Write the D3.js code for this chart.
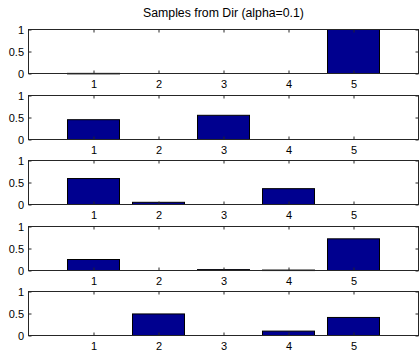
<!DOCTYPE html>
<html>
<head>
<meta charset="utf-8">
<script src="https://cdn.jsdelivr.net/npm/d3@7"></script>
<style>
  body { margin: 0; background: #fff; }
  text { font-family: "Liberation Sans", Arial, sans-serif; font-size: 11px; fill: #000; }
</style>
</head>
<body>
<div id="chart"></div>
<script>
const categories = [1, 2, 3, 4, 5];
const sample1 = [0.003, 0, 0, 0, 1];
const sample2 = [0.45, 0, 0.55, 0, 0];
const sample3 = [0.59, 0.05, 0, 0.36, 0];
const sample4 = [0.25, 0, 0.02, 0.01, 0.72];
const sample5 = [0, 0.49, 0, 0.1, 0.41];
const samples = [sample1, sample2, sample3, sample4, sample5];
const yTicks = [0, 0.5, 1];
const title = 'Samples from Dir (alpha=0.1)';

const W = 419, H = 351;
const left = 28.5, right = 418.5;
const top0 = 29, period = 65.6, plotH = 44;

const svg = d3.select('#chart').append('svg')
  .attr('width', W)
  .attr('height', H);

const x = d3.scaleLinear().domain([0, 6]).range([left, right]);
const barW = x(0.8) - x(0);

svg.append('text')
  .attr('x', (left + right) / 2)
  .attr('y', 17)
  .attr('text-anchor', 'middle')
  .style('font-size', '12.3px')
  .text(title);

samples.forEach((values, i) => {
  const t = Math.round(top0 + i * period) + 0.5;
  const y = d3.scaleLinear().domain([0, 1]).range([t + plotH, t]);
  const g = svg.append('g');

  // bars
  g.selectAll('rect')
    .data(values.map((v, j) => ({ c: categories[j], v: v })).filter(d => d.v > 0))
    .enter().append('rect')
    .attr('x', d => x(d.c) - barW / 2)
    .attr('y', d => y(d.v))
    .attr('width', barW)
    .attr('height', d => Math.max(0.5, y(0) - y(d.v)))
    .attr('fill', '#00008f')
    .attr('stroke', '#000')
    .attr('stroke-width', 1);

  // box
  g.append('rect')
    .attr('x', left)
    .attr('y', t)
    .attr('width', right - left)
    .attr('height', plotH)
    .attr('fill', 'none')
    .attr('stroke', '#262626')
    .attr('stroke-width', 1);

  // x axis ticks inward (bottom and top)
  const xb = d3.axisBottom(x).tickValues(categories).tickSize(-3).tickPadding(6.5).tickFormat(d3.format('d'));
  const xa = g.append('g').attr('transform', `translate(0,${t + plotH})`).call(xb);
  xa.select('.domain').remove();
  const xt = d3.axisTop(x).tickValues(categories).tickSize(-3).tickFormat('');
  const xta = g.append('g').attr('transform', `translate(0,${t})`).call(xt);
  xta.select('.domain').remove();

  // y axis ticks inward (left and right)
  const yl = d3.axisLeft(y).tickValues(yTicks).tickSize(-3).tickPadding(4.5).tickFormat(d => d === 0.5 ? '0.5' : d3.format('d')(d));
  const ya = g.append('g').attr('transform', `translate(${left},0)`).call(yl);
  ya.select('.domain').remove();
  const yr = d3.axisRight(y).tickValues(yTicks).tickSize(-3).tickFormat('');
  const yra = g.append('g').attr('transform', `translate(${right},0)`).call(yr);
  yra.select('.domain').remove();

  g.selectAll('.tick line').attr('stroke', '#262626');
  g.selectAll('.tick text').style('font-family', '"Liberation Sans", Arial, sans-serif').style('font-size', '11px').attr('fill', '#000');
});
</script>
</body>
</html>
